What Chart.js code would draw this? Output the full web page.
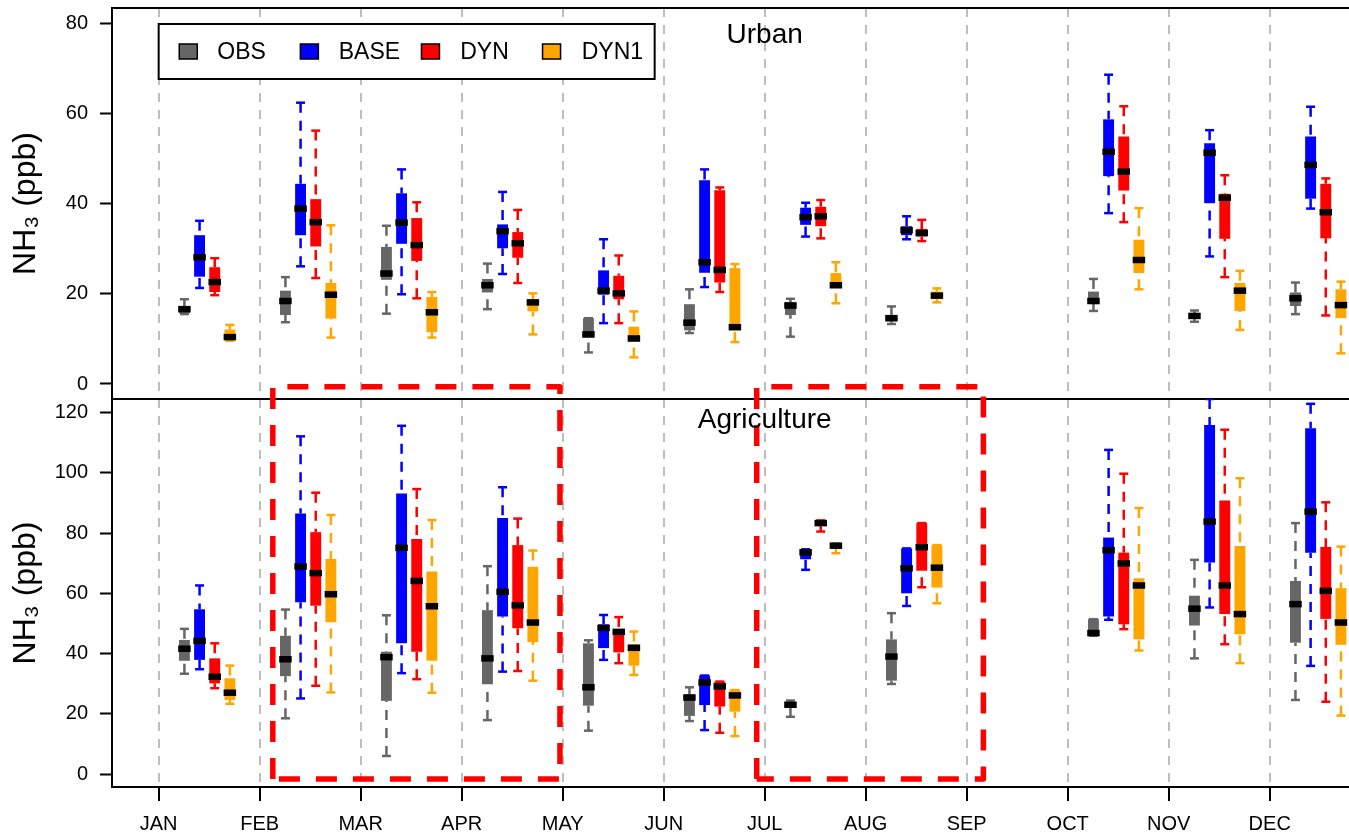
<!DOCTYPE html>
<html>
<head>
<meta charset="utf-8">
<script src="https://cdn.jsdelivr.net/npm/chart.js@4.4.1/dist/chart.umd.min.js"></script>
<style>
html,body{margin:0;padding:0;background:#fff;overflow:hidden}
canvas{display:block}
</style>
</head>
<body>
<canvas id="c" width="1349" height="832"></canvas>
<script>
// ---- categories / tick labels ----
const months = ['JAN','FEB','MAR','APR','MAY','JUN','JUL','AUG','SEP','OCT','NOV','DEC'];
const monthPos = [1,2,3,4,5,6,7,8,9,10,11,12];
const seriesNames = ['OBS','BASE','DYN','DYN1'];
const panelTitles = ['Urban','Agriculture'];
const urbanTicks = [0,20,40,60,80];
const agriTicks = [0,20,40,60,80,100,120];
const yTitle = 'NH\u2083 (ppb)';

// ---- box statistics per month: [min, q1, median, q3, max] ----
const urbanOBS = [
  [15.5,15.7,16.6,17.3,18.8],[13.7,15.3,18.4,20.7,23.7],[15.6,23.1,24.5,30.4,35.1],[16.6,20.3,21.9,23.3,26.7],
  [7.0,10.3,11.0,14.6,14.6],[11.3,11.9,13.6,17.7,21.0],[10.5,15.3,17.4,18.2,18.9],[13.3,13.9,14.6,15.3,17.2],
  null,[16.2,17.8,18.4,20.5,23.3],[13.8,14.8,15.1,15.4,16.3],[15.5,17.3,19.0,20.3,22.5]];
const urbanBASE = [
  [21.3,23.8,28.1,33.0,36.2],[26.1,33.0,38.9,44.4,62.4],[19.9,31.1,35.8,42.3,47.6],[24.4,30.1,33.9,35.4,42.6],
  [13.5,19.8,20.7,25.2,32.1],[21.5,24.7,27.0,45.2,47.6],[32.7,35.3,37.0,39.1,40.2],[32.1,33.0,34.1,35.0,37.2],
  null,[37.9,46.1,51.5,58.7,68.6],[28.3,40.1,51.3,53.4,56.3],[38.9,41.1,48.6,54.9,61.5]];
const urbanDYN = [
  [19.7,20.4,22.6,25.9,27.9],[23.5,30.5,35.9,41.0,56.2],[19.0,27.3,30.8,36.8,40.3],[22.4,28.0,31.2,33.7,38.6],
  [13.5,18.8,20.1,24.0,28.5],[20.4,22.5,25.3,43.0,43.6],[32.3,35.0,37.2,39.3,40.8],[31.7,32.7,33.5,34.4,36.4],
  null,[35.9,42.9,47.1,54.9,61.6],[23.7,32.2,41.3,42.2,46.3],[15.2,32.3,38.1,44.4,45.6]];
const urbanDYN1 = [
  [9.6,9.8,10.4,12.1,13.1],[10.3,14.5,19.8,22.4,35.2],[10.3,11.5,15.9,19.3,20.4],[11.0,16.1,18.1,18.8,20.1],
  [5.9,9.3,10.1,12.7,16.1],[9.3,11.9,12.6,25.7,26.6],[17.9,21.3,21.9,24.6,27.0],[18.1,18.8,19.6,20.5,21.2],
  null,[21.0,24.6,27.5,32.0,39.0],[12.0,16.2,20.7,22.4,25.1],[6.8,14.6,17.5,21.0,22.7]];

const agriOBS = [
  [33.3,37.6,41.6,44.5,48.2],[18.5,32.5,38.1,45.9,54.6],[6.0,24.3,38.8,40.6,52.7],[17.9,29.8,38.4,54.4,69.0],
  [14.4,22.7,28.8,43.4,44.4],[17.6,19.3,25.4,26.5,28.8],[19.0,22.6,23.0,23.4,24.4],[29.9,31.0,39.0,44.7,53.4],
  null,[45.9,45.9,46.8,51.4,51.4],[38.4,49.3,54.9,59.2,71.1],[24.6,43.6,56.4,64.1,83.3]];
const agriBASE = [
  [34.8,37.9,44.2,54.7,62.6],[25.1,57.0,68.9,86.5,112.1],[33.5,43.4,75.1,93.1,115.6],[34.0,52.3,60.5,85.0,95.2],
  [37.9,41.8,48.5,49.7,52.8],[14.6,22.9,30.4,32.7,32.7],[67.8,71.3,73.6,74.6,74.6],[55.8,60.0,68.3,74.9,74.9],
  null,[51.2,52.3,74.3,78.5,107.6],[55.3,70.2,83.8,115.9,124.5],[35.9,73.5,87.1,114.8,122.9]];
const agriDYN = [
  [28.5,30.1,32.3,38.4,43.4],[29.3,55.9,66.7,80.3,93.4],[31.5,40.6,64.1,78.0,94.6],[34.2,48.4,56.0,76.0,84.8],
  [36.8,40.4,47.2,47.2,52.1],[13.7,22.4,29.1,30.7,30.7],[80.5,82.4,83.3,84.2,84.2],[62.0,67.5,75.3,83.3,83.3],
  null,[48.1,49.7,69.9,73.5,99.7],[43.1,53.1,62.6,90.8,114.3],[24.0,51.5,60.8,75.4,90.2]];
const agriDYN1 = [
  [23.3,24.6,27.0,31.8,36.0],[27.1,50.4,59.7,71.4,86.0],[27.0,37.6,55.7,67.2,84.3],[31.0,43.8,50.3,68.8,74.2],
  [32.9,36.0,41.9,43.1,47.3],[12.6,20.7,26.1,27.9,27.9],[73.3,75.0,75.8,76.6,76.6],[56.7,61.9,68.5,76.0,76.0],
  null,[41.0,44.7,62.6,65.0,88.3],[36.8,46.4,53.1,75.7,98.2],[19.4,42.9,50.3,61.7,75.5]];

// highlighted month spans (dashed frames), in month units
const highlightSpans = [[2.13, 4.973], [6.921, 9.165]];

// ---- styling ----
const FONT = '"Liberation Sans", Arial, Helvetica, sans-serif';
const colors = ['#666666','#0000FF','#FF0000','#FFA500'];
const offsets = [0.255, 0.405, 0.555, 0.705];

const datasets = [];
function addPanel(panel, axisID) {
  panel.forEach((stats, s) => {
    const col = colors[s];
    const boxes = [], whisk = [], caps = [], meds = [];
    stats.forEach((v, m) => {
      if (!v) return;
      const x = monthPos[m] + offsets[s];
      const [mn, q1, md, q3, mx] = v;
      boxes.push({x: x, y: [q1, q3]});
      whisk.push({x: x, y: mx}, {x: x, y: q3}, {x: x, y: null}, {x: x, y: mn}, {x: x, y: q1}, {x: x, y: null});
      caps.push({x: x, y: mx}, {x: x, y: mn});
      meds.push({x: x, y: md});
    });
    datasets.push({type: 'line', data: whisk, yAxisID: axisID, borderColor: col, borderWidth: 2.5,
      borderDash: [10, 8], pointRadius: 0, spanGaps: false, fill: false, order: 5});
    datasets.push({type: 'line', showLine: false, data: caps, yAxisID: axisID, pointStyle: 'line',
      pointRadius: 4.5, pointBorderWidth: 2.5, borderColor: col, pointBorderColor: col, order: 4});
    datasets.push({type: 'bar', data: boxes, yAxisID: axisID, backgroundColor: col, borderWidth: 0,
      grouped: false, maxBarThickness: 12.5, order: 3});
    datasets.push({type: 'line', showLine: false, data: meds, yAxisID: axisID, pointStyle: 'line',
      pointRadius: 6.25, pointBorderWidth: 6.5, borderColor: '#000', pointBorderColor: '#000', order: 2});
  });
}
addPanel([urbanOBS, urbanBASE, urbanDYN, urbanDYN1], 'yTop');
addPanel([agriOBS, agriBASE, agriDYN, agriDYN1], 'yBot');

highlightSpans.forEach(([a, b]) => {
  datasets.push({type: 'line', yAxisID: 'yBot', data: [{x: a, y: -1.66}, {x: a, y: 128.6}, {x: b, y: 128.6}, {x: b, y: -1.66}, {x: a, y: -1.66}],
    borderColor: '#FF0000', borderWidth: 5.5, borderDash: [21, 16], pointRadius: 0, fill: false, order: 0, clip: false,
    borderJoinStyle: 'round'});
});

const frame = {
  id: 'frame',
  beforeDatasetsDraw(chart) {
    const {ctx, chartArea, scales} = chart;
    ctx.save();
    ctx.strokeStyle = '#000';
    ctx.lineWidth = 2;
    ctx.beginPath();
    ctx.moveTo(chartArea.left, chartArea.top);
    ctx.lineTo(chartArea.right, chartArea.top);
    ctx.moveTo(chartArea.left, scales.yTop.bottom);
    ctx.lineTo(chartArea.right, scales.yTop.bottom);
    ctx.stroke();
    ctx.restore();
  },
  afterDatasetsDraw(chart) {
    const {ctx, chartArea, scales} = chart;
    const xs = scales.x;
    ctx.save();
    ctx.fillStyle = '#000';
    ctx.font = '28px ' + FONT;
    ctx.textAlign = 'center';
    ctx.textBaseline = 'alphabetic';
    ctx.fillText(panelTitles[0], xs.getPixelForValue(7), scales.yTop.top + 35);
    ctx.fillText(panelTitles[1], xs.getPixelForValue(7), scales.yBot.top + 29);
    const lx = xs.getPixelForValue(1), ly = chartArea.top + 16;
    ctx.fillStyle = '#fff';
    ctx.fillRect(lx, ly, 496, 55);
    ctx.lineWidth = 2;
    ctx.strokeStyle = '#000';
    ctx.strokeRect(lx, ly, 496, 55);
    ctx.font = '23px ' + FONT;
    ctx.textAlign = 'left';
    ctx.textBaseline = 'middle';
    seriesNames.forEach((n, i) => {
      const sx = lx + 20.6 + i * 121.1;
      ctx.fillStyle = colors[i];
      ctx.fillRect(sx, ly + 20, 18, 15);
      ctx.lineWidth = 1.5;
      ctx.strokeStyle = '#000';
      ctx.strokeRect(sx, ly + 20, 18, 15);
      ctx.fillStyle = '#000';
      ctx.fillText(n, lx + 58.6 + i * 121.5, ly + 28.5);
    });
    ctx.restore();
  }
};

function noPad(s) { s.paddingTop = 0; s.paddingBottom = 0; s.paddingLeft = 0; s.paddingRight = 0; }

function yAxis(min, max, ticksArr, weight) {
  return {
    type: 'linear', position: 'left', stack: 'panels', stackWeight: weight,
    min: min, max: max,
    afterBuildTicks: s => { s.ticks = ticksArr.map(v => ({value: v})); },
    afterFit: s => { s.width = 112; noPad(s); },
    ticks: {font: {size: 20, family: FONT}, color: '#000', padding: 12},
    grid: {drawOnChartArea: false, drawTicks: true, tickLength: 12, tickWidth: 2, tickColor: '#000', color: '#000'},
    border: {display: true, color: '#000', width: 2},
    title: {display: true, text: yTitle, font: {size: 32, family: FONT}, color: '#000', padding: {top: 7, bottom: 0}}
  };
}

new Chart(document.getElementById('c'), {
  type: 'bar',
  data: {datasets: datasets},
  plugins: [frame],
  options: {
    responsive: false,
    animation: false,
    events: [],
    devicePixelRatio: 1,
    layout: {autoPadding: false, padding: {top: 8, left: 0, right: 0, bottom: 0}},
    plugins: {legend: {display: false}, tooltip: {enabled: false}},
    scales: {
      x: {
        type: 'linear', position: 'bottom', min: 0.538, max: 12.785, offset: false,
        afterBuildTicks: s => { s.ticks = monthPos.map(v => ({value: v})); },
        afterFit: s => { s.height = 45; noPad(s); },
        ticks: {callback: (v, i) => months[i], font: {size: 20, family: FONT}, color: '#000', padding: 11, maxRotation: 0, autoSkip: false},
        grid: {offset: false, color: '#BEBEBE', lineWidth: 2, tickColor: '#000', tickWidth: 2, tickLength: 14, tickBorderDash: []},
        border: {display: true, color: '#000', width: 2, dash: [9, 8]}
      },
      yBot: yAxis(-4.3, 124.5, agriTicks, 388),
      yTop: yAxis(-3.33, 83.4, urbanTicks, 391)
    }
  }
});
</script>
</body>
</html>
